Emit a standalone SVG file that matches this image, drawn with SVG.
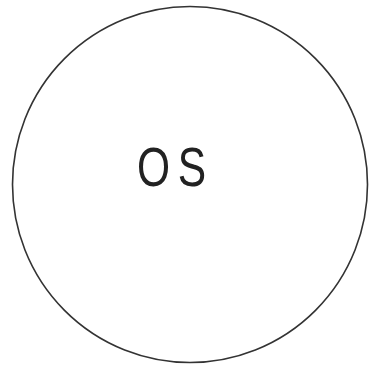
<svg xmlns="http://www.w3.org/2000/svg" width="369" height="367" viewBox="0 0 369 367">
<style>
.node{fill:#fff;stroke:#333;stroke-width:1.6}
.lbl{font-family:"Liberation Sans",Arial,sans-serif;font-size:56px;fill:#222;text-anchor:start;letter-spacing:10px}
</style>
<rect width="369" height="367" fill="#fff"/>
<g id="connectors"/>
<g id="os">
<ellipse class="node" cx="190" cy="184.5" rx="177.5" ry="178"/>
<text class="lbl" x="0" y="0" transform="translate(137 186) scale(0.76 1)">OS</text>
</g>
</svg>
